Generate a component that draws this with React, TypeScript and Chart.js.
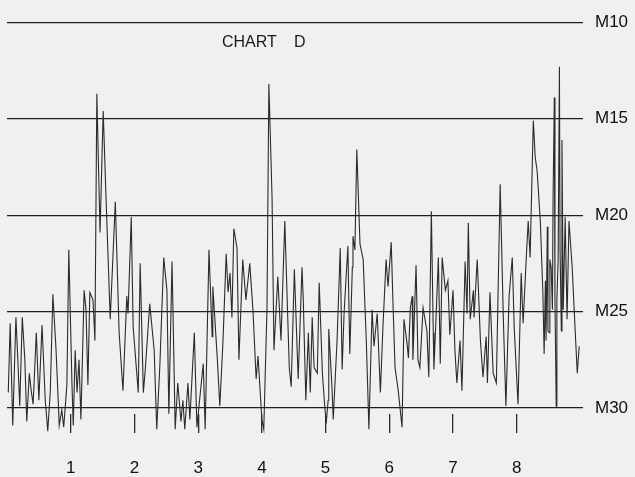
import React, { useEffect, useRef } from "react";
import { Chart, registerables } from "chart.js";

Chart.register(...registerables);

// Section marks along the trace (tenths of a section) and their labels
const sectionTicks = [10, 20, 30, 40, 50, 60, 70, 80];
const sectionLabels = ["1", "2", "3", "4", "5", "6", "7", "8"];

// Depth reference lines (inverted scale) and their labels
const depthTicks = [10, 15, 20, 25, 30];
const depthLabels = ["M10", "M15", "M20", "M25", "M30"];

const chartTitle = "CHART D";

// Trace turning points
const tracePositions = [
  0.2, 0.5, 0.9, 1.4, 1.7, 2.0, 2.4, 2.8, 3.1, 3.5, 3.8, 4.1, 4.6, 5.0, 5.5, 6.0, 6.4, 6.8, 7.2, 7.7,
  8.2, 8.6, 8.9, 9.4, 9.7, 10.2, 10.4, 10.7, 11.0, 11.3, 11.6, 12.1, 12.4, 12.7, 13.0, 13.5, 13.8, 14.1, 14.6, 15.1,
  15.5, 16.2, 17.0, 17.6, 18.2, 18.8, 19.0, 19.5, 19.8, 20.6, 20.9, 21.4, 21.7, 22.4, 23.1, 23.5, 24.0, 24.6, 25.1, 25.4,
  25.9, 26.4, 26.8, 27.3, 27.6, 27.9, 28.4, 28.7, 29.4, 29.8, 30.8, 31.1, 31.7, 32.2, 32.3, 33.0, 33.4, 33.9, 34.4, 34.7,
  35.0, 35.3, 35.6, 36.1, 36.4, 37.0, 37.5, 38.1, 38.6, 39.1, 39.4, 40.0, 40.3, 40.8, 41.1, 41.6, 41.9, 42.5, 43.0, 43.6,
  44.3, 44.6, 45.1, 45.7, 46.3, 46.5, 46.9, 47.3, 47.6, 47.9, 48.2, 48.7, 49.0, 49.5, 49.8, 50.1, 50.4, 50.5, 51.0, 51.2,
  51.8, 52.3, 52.6, 52.9, 53.5, 53.8, 54.2, 54.3, 54.6, 54.9, 55.4, 55.9, 56.4, 56.8, 57.3, 57.6, 58.1, 58.6, 59.0, 59.5,
  59.8, 60.3, 60.6, 60.9, 61.4, 62.0, 62.3, 62.8, 63.0, 63.3, 63.6, 63.7, 64.2, 64.5, 64.8, 65.3, 65.9, 66.2, 66.6, 66.9,
  67.0, 67.3, 67.7, 68.0, 68.3, 68.8, 69.2, 69.5, 70.0, 70.3, 70.6, 71.1, 71.4, 71.9, 72.2, 72.4, 72.7, 73.2, 73.3, 73.8,
  74.3, 74.7, 75.2, 75.4, 75.8, 76.3, 76.8, 77.4, 77.9, 78.3, 78.8, 79.3, 79.6, 80.2, 80.7, 81.0, 81.5, 81.8, 82.1, 82.6,
  82.9, 83.2, 83.7, 84.1, 84.3, 84.5, 84.6, 84.8, 84.9, 85.1, 85.2, 85.4, 85.6, 85.7, 85.9, 86.0, 86.2, 86.3, 86.5, 86.7,
  86.8, 87.0, 87.1, 87.3, 87.6, 87.9, 88.2, 88.7, 89.0, 89.5, 89.8,
];

const traceDepths = [
  29.2, 25.6, 30.9, 25.3, 27.5, 29.9, 25.3, 27.5, 30.7, 28.2, 29.1, 29.8, 26.1, 29.6, 25.7, 29.6, 31.2, 29.1, 24.1, 27.0,
  30.9, 30.1, 31.0, 28.8, 21.8, 28.8, 30.9, 27.0, 29.2, 27.5, 30.6, 23.9, 24.9, 28.8, 24.0, 24.4, 26.5, 13.7, 20.9, 14.6,
  18.7, 25.4, 19.3, 26.1, 29.1, 24.2, 25.1, 20.1, 25.8, 29.2, 22.5, 29.2, 28.0, 24.6, 27.0, 31.1, 27.7, 22.2, 23.9, 30.3,
  22.4, 31.1, 28.7, 30.7, 29.6, 31.1, 28.7, 30.6, 26.1, 31.0, 27.7, 31.1, 21.8, 26.3, 23.7, 27.4, 29.9, 26.5, 22.0, 24.0,
  23.0, 25.3, 20.7, 21.7, 27.5, 22.3, 24.4, 22.5, 24.9, 28.5, 27.3, 30.6, 31.1, 24.9, 13.2, 19.1, 27.0, 23.2, 26.5, 20.3,
  27.9, 28.9, 22.8, 28.5, 22.7, 24.4, 29.6, 26.1, 29.2, 25.3, 27.9, 28.2, 23.5, 28.2, 29.6, 30.8, 29.6, 25.9, 28.9, 30.6,
  26.5, 21.7, 28.0, 25.1, 21.6, 27.2, 22.7, 21.1, 21.8, 16.6, 21.5, 22.3, 26.6, 31.1, 24.9, 26.8, 25.1, 29.2, 25.8, 22.3,
  23.7, 21.4, 24.8, 27.9, 29.1, 31.0, 25.4, 26.7, 27.4, 24.8, 24.2, 27.5, 22.6, 27.5, 27.9, 24.8, 26.0, 28.4, 19.8, 26.1,
  28.0, 25.6, 22.2, 27.7, 22.2, 23.9, 23.4, 26.2, 23.9, 27.0, 28.7, 26.5, 29.1, 22.4, 25.1, 20.4, 25.4, 23.9, 25.3, 22.3,
  26.5, 28.4, 26.3, 28.7, 24.0, 28.2, 28.7, 18.4, 25.4, 29.9, 24.2, 22.2, 25.8, 29.8, 23.0, 25.6, 22.2, 20.3, 22.2, 15.1,
  17.0, 17.7, 20.3, 24.0, 27.2, 23.4, 26.5, 20.6, 26.0, 26.1, 22.3, 22.7, 24.9, 19.2, 13.9, 24.4, 29.9, 24.4, 22.3, 12.3,
  21.8, 26.0, 16.1, 24.9, 20.1, 25.4, 20.3, 22.7, 24.8, 28.2, 26.8,
];

const FONT = '"Liberation Sans", Arial, Helvetica, sans-serif';

export default function App() {
  const ref = useRef<HTMLCanvasElement>(null);

  useEffect(() => {
    if (!ref.current) return;

    const paper = {
      id: "paper",
      beforeDraw(c: any) {
        const { ctx, width, height } = c;
        ctx.save();
        ctx.fillStyle = "#eff1ef";
        ctx.fillRect(0, 0, width, height);
        ctx.restore();
      },
    };

    const caption = {
      id: "caption",
      afterDraw(c: any) {
        const ctx = c.ctx;
        const words = chartTitle.split(" ");
        ctx.save();
        ctx.font = `16px ${FONT}`;
        ctx.fillStyle = "#1a1a1a";
        ctx.textBaseline = "middle";
        ctx.textAlign = "left";
        ctx.fillText(words[0], 222, 43);
        ctx.fillText(words[1], 294, 43);
        ctx.restore();
      },
    };

    const chart = new Chart(ref.current, {
      type: "line",
      data: {
        datasets: [
          {
            data: tracePositions.map((x, i) => ({ x, y: traceDepths[i] })),
            borderColor: "#2b2b2b",
            borderWidth: 1.1,
            pointRadius: 0,
            tension: 0,
            clip: false as any,
          },
        ],
      },
      options: {
        responsive: false,
        animation: false,
        layout: { padding: { left: 7, top: 3, right: 0, bottom: 0 } },
        plugins: {
          legend: { display: false },
          tooltip: { enabled: false },
        },
        scales: {
          x: {
            type: "linear",
            min: 0,
            max: 90.4,
            afterBuildTicks: (s: any) => {
              s.ticks = sectionTicks.map((v) => ({ value: v }));
            },
            afterFit: (s: any) => {
              s.height = 63;
              s.paddingLeft = 0;
              s.paddingRight = 0;
            },
            border: { display: false },
            grid: {
              drawOnChartArea: false,
              drawTicks: true,
              tickLength: 19,
              color: "#2a2a2a",
              lineWidth: 1.3,
            },
            ticks: {
              padding: 25,
              autoSkip: false,
              maxRotation: 0,
              color: "#111",
              font: { size: 17, family: FONT },
              callback: (_v: any, i: number) => sectionLabels[i],
            },
          },
          y: {
            type: "linear",
            position: "right",
            reverse: true,
            min: 9.0,
            max: 30.31,
            afterBuildTicks: (s: any) => {
              s.ticks = depthTicks.map((v) => ({ value: v }));
            },
            afterFit: (s: any) => {
              s.width = 52;
              s.paddingTop = 0;
              s.paddingBottom = 0;
            },
            border: { display: false },
            grid: {
              drawTicks: false,
              color: "#1e1e1e",
              lineWidth: 1.3,
            },
            ticks: {
              padding: 12,
              color: "#111",
              font: { size: 17, family: FONT },
              callback: (_v: any, i: number) => depthLabels[i],
            },
          },
        },
      },
      plugins: [paper, caption],
    });

    return () => chart.destroy();
  }, []);

  return (
    <canvas
      ref={ref}
      width={635}
      height={477}
      style={{ position: "fixed", left: 0, top: 0, display: "block" }}
    />
  );
}
